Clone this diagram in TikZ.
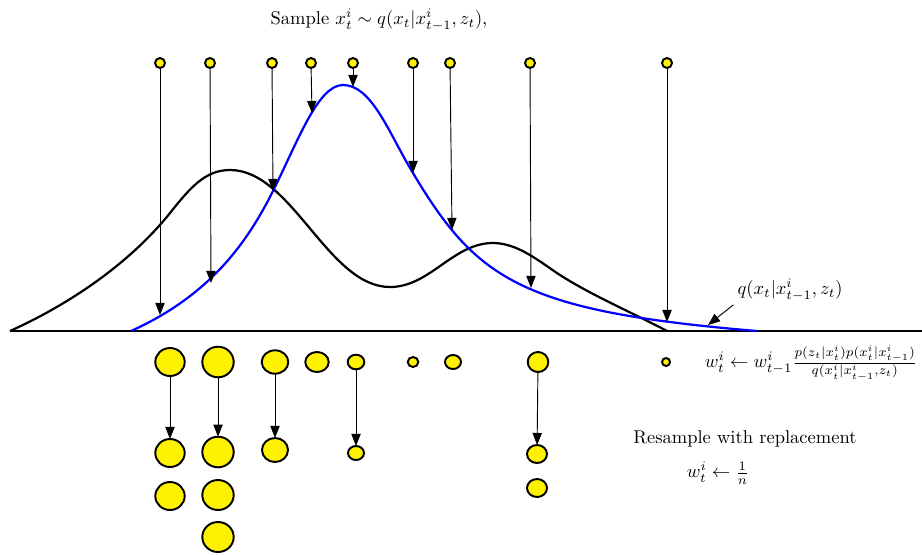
\documentclass[tikz,border=0pt]{standalone}
\usetikzlibrary{arrows.meta,shapes.geometric}
\begin{document}
\begin{tikzpicture}[x=0.54pt,y=-0.54pt,
  dot/.style={ellipse, draw=black, fill=yellow, line width=1.05pt, inner sep=0pt, outer sep=0pt},
  pd/.style 2 args={dot, minimum width={(2*#1-2)*0.54pt}, minimum height={(2*#2-2)*0.54pt}},
  arr/.style={-{Triangle[length=6.5pt,width=5pt]}, line width=0.5pt},
  curve/.style={line width=1.2pt, line join=round},
  lab/.style={inner sep=2pt}]
\useasboundingbox (0,0) rectangle (922,554);

% axis
\coordinate (b0) at (10,331);
\coordinate (b1) at (922,331);
\draw[line width=0.7pt] (b0) -- (b1);

% black target density
\draw[curve, black] (10,331)
  .. controls (70,304) and (130,263) .. (170,213)
  .. controls (190,188) and (205,170) .. (230,170)
  .. controls (292,170) and (328,287) .. (390,287)
  .. controls (430,287) and (453,243) .. (493,243)
  .. controls (518,243) and (540,262) .. (560,275)
  .. controls (590,294.5) and (637,315) .. (667,331);

% blue proposal density
\draw[curve, blue] (131,331)
  .. controls (211,295) and (248,241) .. (273,191)
  .. controls (298,141) and (318,85) .. (343,85)
  .. controls (371,85) and (388,130.6) .. (410,168)
  .. controls (475,278) and (517,311) .. (757,331);

% top samples
\node[pd={6}{6}] (t1) at (160,63) {};
\node[pd={6}{6}] (t2) at (210,63) {};
\node[pd={6}{6}] (t3) at (272,63) {};
\node[pd={6}{6}] (t4) at (311,63) {};
\node[pd={6}{6}] (t5) at (353,63) {};
\node[pd={6}{6}] (t6) at (413,63) {};
\node[pd={6}{6}] (t7) at (450,63) {};
\node[pd={6}{6}] (t8) at (530,63) {};
\node[pd={6}{6}] (t9) at (667,63) {};

\coordinate (c1) at (160,315);
\coordinate (c2) at (211,283);
\coordinate (c3) at (273,191);
\coordinate (c4) at (312,113);
\coordinate (c5) at (353,87);
\coordinate (c6) at (413,173);
\coordinate (c7) at (452,230);
\coordinate (c8) at (531,288);
\coordinate (c9) at (667,322);

\foreach \i in {1,...,9} \draw[arr] (t\i) -- (c\i);

% weighted samples
\node[pd={15.7}{15}]   (m1) at (170,362) {};
\node[pd={16.7}{16.3}] (m2) at (218,362) {};
\node[pd={14.3}{12.7}] (m3) at (275,362) {};
\node[pd={12.7}{11}]   (m4) at (317,362) {};
\node[pd={9.3}{8.3}]   (m5) at (356,362) {};
\node[pd={6.3}{6}]     (m6) at (413,362) {};
\node[pd={9}{8}]       (m7) at (453,362) {};
\node[pd={11.3}{11}]   (m8) at (538,362) {};
\node[pd={5}{5}]       (m9) at (666,362) {};

% resampled
\node[pd={15.7}{15}]   (r1) at (170,453) {};
\node[pd={16.7}{16.3}] (r2) at (218,452) {};
\node[pd={14}{13}]     (r3) at (275,450) {};
\node[pd={9}{8}]       (r5) at (356,453) {};
\node[pd={11}{10}]     (r8) at (537,454) {};
\node[pd={15.7}{15}]   (s1) at (170,496) {};
\node[pd={16.7}{16}]   (s2) at (218,495) {};
\node[pd={11}{10}]     (s8) at (537,488) {};
\node[pd={16.7}{16}]   (u2) at (218,537) {};

\draw[arr] (m1) -- (r1);
\draw[arr] (m2) -- (r2);
\draw[arr] (m3) -- (r3);
\draw[arr] (m5) -- (r5);
\draw[arr] (m8) -- (r8);

% texts
\node[lab] (title) at (379,20) {Sample $x_t^i \sim q(x_t|x^i_{t-1},z_t)$,};
\node[lab] (qlab) at (790,290) {$q(x_t|x^i_{t-1},z_t)$};
\coordinate (qtip) at (708,325);
\draw[arr] (qlab.south west) -- (qtip);
\node[lab] (wup) at (811,363) {$w_t^i \leftarrow w_{t-1}^i \frac{p(z_t|x_t^i)p(x_t^i|x_{t-1}^i)}{q(x_t^i|x_{t-1}^i,z_t)}$};
\node[lab] (res) at (745,439) {Resample with replacement};
\node[lab] (wn) at (718,473) {$w_t^i \leftarrow \frac{1}{n}$};
\end{tikzpicture}
\end{document}
